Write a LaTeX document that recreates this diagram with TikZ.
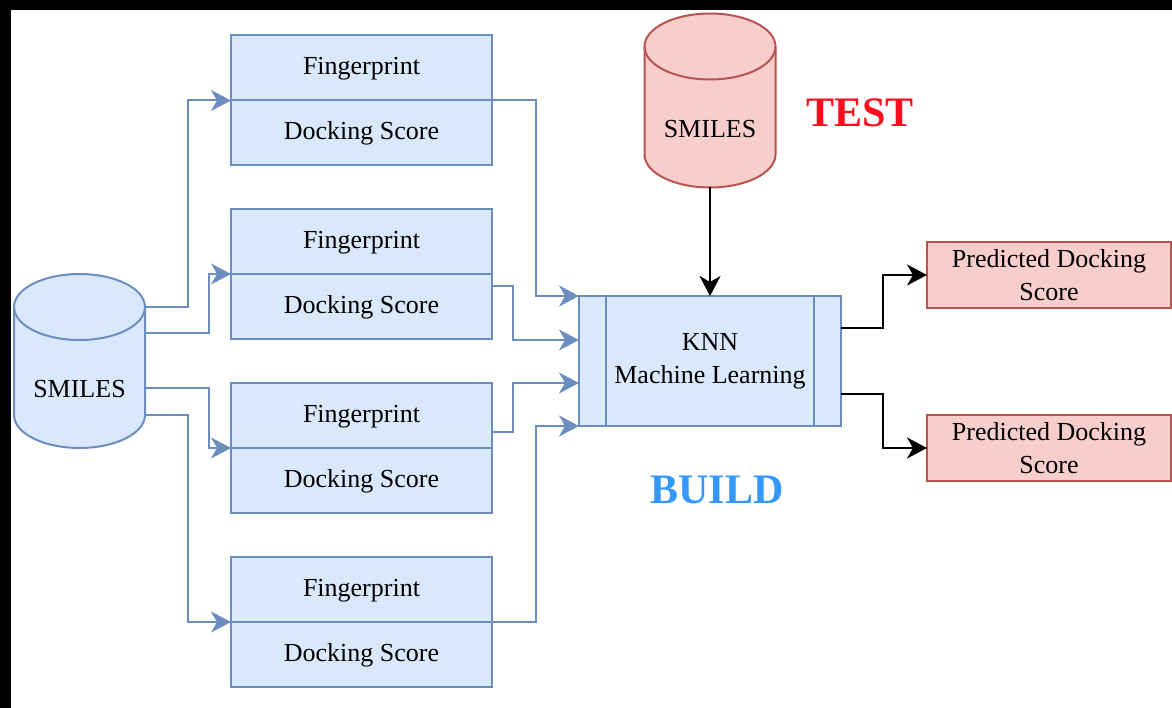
\documentclass[tikz,border=0pt]{standalone}
\usepackage{fontspec}
\setmainfont{Liberation Serif}
\usetikzlibrary{arrows.meta,positioning}
\definecolor{boxfill}{HTML}{DAE8FC}
\definecolor{boxline}{HTML}{6C8EBF}
\definecolor{predfill}{HTML}{F8CECC}
\definecolor{predline}{HTML}{B85450}
\definecolor{testred}{HTML}{FF0D1F}
\definecolor{buildblue}{HTML}{3399FF}
\begin{document}
\begin{tikzpicture}[x=1pt, y=-1pt,
    box/.style={draw=boxline, fill=boxfill, line width=2pt, inner sep=0pt,
      outer sep=0pt, minimum width=261pt, minimum height=65pt, align=center,
      font=\fontsize{26}{33}\selectfont},
    predbox/.style={box, draw=predline, fill=predfill,
      minimum width=244pt, minimum height=66pt},
    store/.style={inner sep=0pt, outer sep=0pt, minimum width=131pt,
      minimum height=174pt},
    drum/.style={line width=2pt},
    flow/.style={draw=boxline, line width=2pt,
      -{Stealth[length=20pt, width=21pt, inset=6pt]}},
    result/.style={draw=black, line width=2pt,
      -{Stealth[length=20pt, width=21pt, inset=6pt]}}]
  \useasboundingbox (0,0) rectangle (1172,708);
  \fill[black] (0,0) rectangle (1172,10);
  \fill[black] (0,0) rectangle (11,708);

  % training data and the four feature blocks
  \node[store] (db) at (79.5,361) {};
  \draw[drum, draw=boxline, fill=boxfill] ([yshift=-33pt]db.north west)
    -- ([yshift=33pt]db.south west)
    arc[start angle=180, end angle=360, x radius=65.5pt, y radius=33pt]
    -- ([yshift=-33pt]db.north east)
    arc[start angle=0, end angle=180, x radius=65.5pt, y radius=33pt] -- cycle;
  \draw[drum, draw=boxline] ([yshift=-33pt]db.north west)
    arc[start angle=180, end angle=360, x radius=65.5pt, y radius=33pt];
  \node[font=\fontsize{26}{33}\selectfont] (dbtext) at (79.5,389) {SMILES};
  \foreach \i/\y in {1/68, 2/241.5, 3/415.5, 4/589.5} {
    \node[box] (fp\i) at (361.5,\y) {\strut Fingerprint};
    \node[box, below=0pt of fp\i] (ds\i) {\strut Docking Score};
  }

  % model
  \node[box, minimum width=262pt, minimum height=130pt] (knn) at (710,361)
    {KNN\\Machine Learning};
  \draw[boxline, line width=2pt] ([xshift=27pt]knn.north west)
    -- ([xshift=27pt]knn.south west);
  \draw[boxline, line width=2pt] ([xshift=-27pt]knn.north east)
    -- ([xshift=-27pt]knn.south east);

  % test data and outputs
  \node[store] (test) at (710,100.5) {};
  \draw[drum, draw=predline, fill=predfill] ([yshift=-33pt]test.north west)
    -- ([yshift=33pt]test.south west)
    arc[start angle=180, end angle=360, x radius=65.5pt, y radius=33pt]
    -- ([yshift=-33pt]test.north east)
    arc[start angle=0, end angle=180, x radius=65.5pt, y radius=33pt] -- cycle;
  \draw[drum, draw=predline] ([yshift=-33pt]test.north west)
    arc[start angle=180, end angle=360, x radius=65.5pt, y radius=33pt];
  \node[font=\fontsize{26}{33}\selectfont] (testtext) at (710,129) {SMILES};
  \node[predbox] (pr1) at (1049,275) {Predicted Docking\\Score};
  \node[predbox] (pr2) at (1049,448) {Predicted Docking\\Score};

  \node[font=\fontsize{42}{42}\selectfont\bfseries, text=testred] (testlabel)
    at (860,113) {TEST};
  \node[font=\fontsize{42}{42}\selectfont\bfseries, text=buildblue] (buildlabel)
    at (717,490) {BUILD};

  % SMILES into the blocks
  \draw[flow] ([yshift=54pt]db.east) -- ++(43,0) |- (ds1.north west);
  \draw[flow] ([yshift=28pt]db.east) -- ++(64,0) |- (ds2.north west);
  \draw[flow] ([yshift=-27pt]db.east) -- ++(64,0) |- (ds3.north west);
  \draw[flow] ([yshift=-54pt]db.east) -- ++(43,0) |- (ds4.north west);

  % blocks into the model
  \draw[flow] (ds1.north east) -- ++(44,0) |- (knn.north west);
  \draw[flow] ([yshift=-12pt]ds2.north east) -- ++(21,0)
    |- ([yshift=21pt]knn.west);
  \draw[flow] ([yshift=16pt]fp3.south east) -- ++(21,0)
    |- ([yshift=-22pt]knn.west);
  \draw[flow] (ds4.north east) -- ++(44,0) |- (knn.south west);

  \draw[result] (test.south) -- (knn.north);
  \draw[result] ([yshift=33pt]knn.east) -- ++(42,0) |- (pr1.west);
  \draw[result] ([yshift=-33pt]knn.east) -- ++(42,0) |- (pr2.west);
\end{tikzpicture}
\end{document}
